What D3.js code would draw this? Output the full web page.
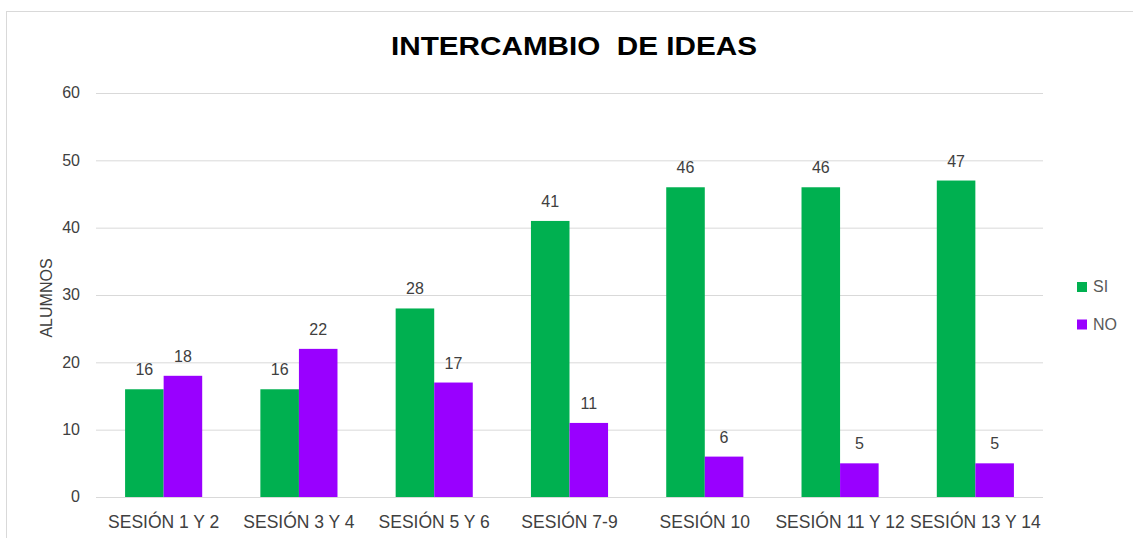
<!DOCTYPE html>
<html><head><meta charset="utf-8">
<script src="https://cdn.jsdelivr.net/npm/d3@7"></script>
<style>body{margin:0;background:#fff}svg{display:block}text{font-family:"Liberation Sans",Arial,sans-serif}</style>
</head><body>
<svg id="c" width="1133" height="538"></svg>
<script>
const categories = ["SESIÓN 1 Y 2","SESIÓN 3 Y 4","SESIÓN 5 Y 6","SESIÓN 7-9","SESIÓN 10","SESIÓN 11 Y 12","SESIÓN 13 Y 14"];
const seriesNames = ["SI","NO"];
const siValues = [16,16,28,41,46,46,47];
const noValues = [18,22,17,11,6,5,5];
const yTicks = [0,10,20,30,40,50,60];
const colors = ["#00B050","#9900FF"];

const svg = d3.select("#c");
svg.append("rect").attr("x",6.5).attr("y",11.5).attr("width",1140).attr("height",540)
  .attr("fill","#fff").attr("stroke","#d9d9d9");

const L=96,R=1043,T=93,B=497;
const x = d3.scaleBand().domain(categories).range([L,R]).paddingInner(0.43).paddingOuter(0.215);
const xs = d3.scaleBand().domain(seriesNames).range([0,x.bandwidth()]);
const y = d3.scaleLinear().domain([0,60]).range([B,T]);

svg.append("g").selectAll("line").data(yTicks).join("line")
  .attr("x1",L).attr("x2",R).attr("y1",d=>y(d)+0.5).attr("y2",d=>y(d)+0.5)
  .attr("stroke","#d9d9d9").attr("stroke-width",1);

const yAxis = svg.append("g").attr("transform",`translate(${L-16},0)`)
  .call(d3.axisLeft(y).tickValues(yTicks).tickSize(0).tickPadding(0));
yAxis.select(".domain").remove();
yAxis.selectAll("text").attr("font-size",16).attr("fill","#404040").attr("font-family","Liberation Sans, Arial").attr("dy","0.3em");

const xAxis = svg.append("g").attr("transform",`translate(0,${B})`)
  .call(d3.axisBottom(x).tickSize(0).tickPadding(0));
xAxis.select(".domain").remove();
xAxis.selectAll("text").attr("font-size",17.5).attr("fill","#404040").attr("font-family","Liberation Sans, Arial")
  .attr("y",31).attr("dy",0);

const data = categories.map((c,i)=>({c, vals:[siValues[i],noValues[i]]}));
const g = svg.append("g").selectAll("g").data(data).join("g").attr("transform",d=>`translate(${x(d.c)},0)`);
g.selectAll("rect").data(d=>d.vals.map((v,j)=>({s:seriesNames[j],v,j}))).join("rect")
  .attr("x",d=>xs(d.s)).attr("width",xs.bandwidth()).attr("y",d=>y(d.v)).attr("height",d=>B-y(d.v))
  .attr("fill",d=>colors[d.j]);
g.selectAll("text").data(d=>d.vals.map((v,j)=>({s:seriesNames[j],v,j}))).join("text")
  .attr("x",d=>xs(d.s)+xs.bandwidth()/2).attr("y",d=>y(d.v)-14)
  .attr("text-anchor","middle").attr("font-size",16).attr("fill","#404040").text(d=>d.v);

svg.append("text").attr("x",574).attr("y",55).attr("text-anchor","middle")
  .attr("font-size",26).attr("font-weight","bold").attr("fill","#000")
  .attr("textLength",366).attr("lengthAdjust","spacingAndGlyphs")
  .attr("xml:space","preserve").style("white-space","pre").text("INTERCAMBIO  DE IDEAS");

svg.append("text").attr("transform","translate(52,298) rotate(-90)").attr("text-anchor","middle")
  .attr("font-size",16).attr("fill","#404040").text("ALUMNOS");

const leg = svg.append("g").selectAll("g").data(seriesNames).join("g")
  .attr("transform",(d,i)=>`translate(1077,${282+i*37.5})`);
leg.append("rect").attr("width",10).attr("height",10).attr("fill",(d,i)=>colors[i]);
leg.append("text").attr("x",16).attr("y",10).attr("font-size",16).attr("fill","#595959").text(d=>d);
</script>
</body></html>
